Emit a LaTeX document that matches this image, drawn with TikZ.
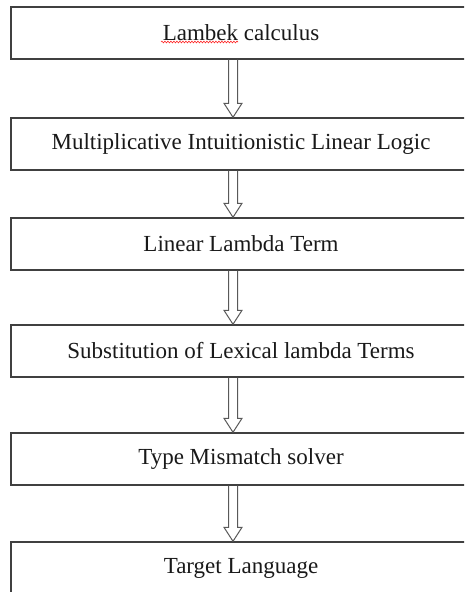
\documentclass[tikz,border=0pt]{standalone}
\usepackage{fontspec}
\setmainfont{Liberation Serif}
\usetikzlibrary{calc,decorations.pathmorphing}
\colorlet{box edge}{black!75}
\colorlet{arrow edge}{black!65}
\tikzset{stage/.style={draw=box edge, line width=1.4pt, minimum width=460pt,
    minimum height=52pt, inner sep=0pt, text=black!90,
    font=\fontsize{23}{27}\selectfont},
    hollow/.style={draw=arrow edge, line width=1pt, line join=miter}}
\def\blockarrow#1#2{%
    \draw[hollow] ($(#1.south -| axis)+(-4.5,0)$) -- ($(#2.north -| axis)+(-4.5,14)$)
        -- ++(-4.5,0) -- (#2.north -| axis) -- ++(9,14) -- ++(-4.5,0)
        -- ($(#1.south -| axis)+(4.5,0)$);}

\begin{document}
\begin{tikzpicture}[x=1pt, y=1pt]
    \useasboundingbox (0,0) rectangle (464,-592);
    \clip (0,0) rectangle (464,-592);
    \coordinate (axis) at (233,0);
    \node[stage] (lambek) at (241,-33) {Lambek calculus};
    \node[stage] (mill) at (241,-144) {Multiplicative Intuitionistic Linear Logic};
    \node[stage] (linterm) at (241,-244) {Linear Lambda Term};
    \node[stage] (subst) at (241,-351) {Substitution of Lexical lambda Terms};
    \node[stage] (mismatch) at (241,-459) {Type Mismatch solver};
    \node[stage] (target) at (241,-568) {Target Language};
    % spell-check squiggle
    \draw[red!85, line width=0.6pt, decorate, decoration={snake, amplitude=0.9pt, segment length=3pt}]
        ($(lambek.center)+(-80,-9)$) -- ($(lambek.center)+(-3,-9)$);
    \blockarrow{lambek}{mill}
    \blockarrow{mill}{linterm}
    \blockarrow{linterm}{subst}
    \blockarrow{subst}{mismatch}
    \blockarrow{mismatch}{target}
\end{tikzpicture}
\end{document}
